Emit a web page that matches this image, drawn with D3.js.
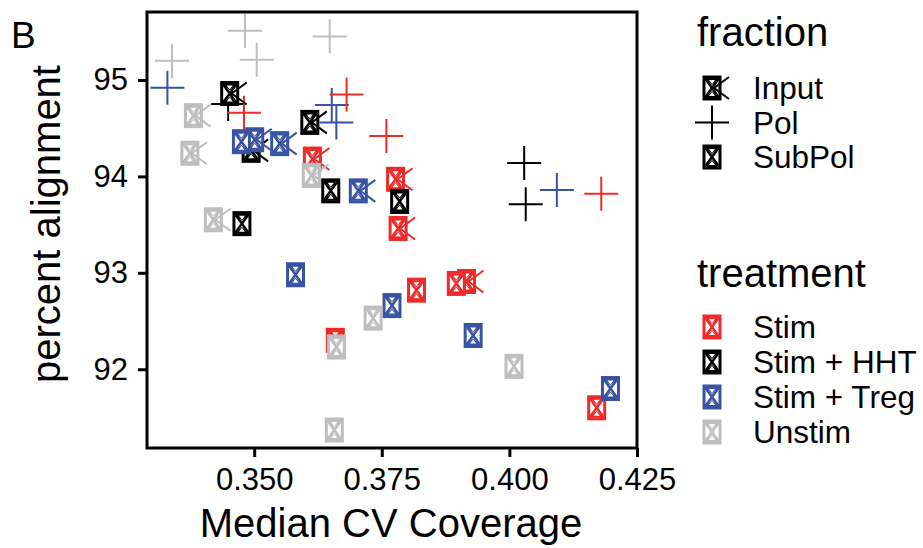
<!DOCTYPE html>
<html>
<head>
<meta charset="utf-8">
<script src="https://cdn.jsdelivr.net/npm/d3@7"></script>
<style>
  body { margin: 0; background: #fff; }
  text { font-family: "Liberation Sans", Arial, Helvetica, sans-serif; fill: #000; }
</style>
</head>
<body>
<div id="chart"></div>
<script>
// treatment colours and names
let treatments = ["Stim", "Stim + HHT", "Stim + Treg", "Unstim"];
let treatmentColors = ["#ee2a2a", "#000000", "#3953a4", "#bebebe"];
let fractions = ["Input", "Pol", "SubPol"];

let xTicks = [0.350, 0.375, 0.400, 0.425];
let yTicks = [92, 93, 94, 95];

// [coverage, alignment, treatment]
let polPoints = [
  [0.3339, 95.20, "Unstim"], [0.3482, 95.51, "Unstim"], [0.3505, 95.21, "Unstim"], [0.3648, 95.45, "Unstim"],
  [0.3330, 94.92, "Stim + Treg"], [0.3652, 94.74, "Stim + Treg"], [0.3661, 94.56, "Stim + Treg"],
  [0.3449, 94.75, "Stim + HHT"], [0.3480, 94.66, "Stim"], [0.3681, 94.85, "Stim"], [0.3759, 94.42, "Stim"],
  [0.4029, 94.14, "Stim + HHT"], [0.4032, 93.71, "Stim + HHT"], [0.4093, 93.86, "Stim + Treg"], [0.4180, 93.82, "Stim"]
];
let inputPoints = [
  [0.3452, 94.86, "Stim + HHT"], [0.3494, 94.27, "Stim + HHT"], [0.3609, 94.56, "Stim + HHT"],
  [0.3614, 94.18, "Stim"], [0.3777, 93.97, "Stim"], [0.3782, 93.46, "Stim"], [0.3916, 92.91, "Stim"],
  [0.3501, 94.38, "Stim + Treg"], [0.3550, 94.34, "Stim + Treg"], [0.3704, 93.85, "Stim + Treg"],
  [0.3381, 94.63, "Unstim"], [0.3374, 94.24, "Unstim"], [0.3420, 93.55, "Unstim"], [0.3612, 94.01, "Unstim"]
];
let subPolPoints = [
  [0.3650, 93.85, "Stim + HHT"], [0.3785, 93.74, "Stim + HHT"], [0.3476, 93.51, "Stim + HHT"],
  [0.3818, 92.82, "Stim"], [0.3896, 92.89, "Stim"], [0.3659, 92.30, "Stim"], [0.4171, 91.60, "Stim"],
  [0.3475, 94.36, "Stim + Treg"], [0.3581, 92.98, "Stim + Treg"], [0.3770, 92.66, "Stim + Treg"],
  [0.3929, 92.35, "Stim + Treg"], [0.4198, 91.80, "Stim + Treg"],
  [0.3733, 92.53, "Unstim"], [0.3661, 92.23, "Unstim"], [0.3657, 91.37, "Unstim"], [0.4009, 92.03, "Unstim"]
];

let plot = { left: 147, top: 12, right: 637, bottom: 448 };

let color = d3.scaleOrdinal().domain(treatments).range(treatmentColors);
let x = d3.scaleLinear().domain([0.329, 0.425]).range([plot.left, plot.right]);
let y = d3.scaleLinear().domain([91.183, 95.705]).range([plot.bottom, plot.top]);

let svg = d3.select("#chart").append("svg")
  .attr("width", 923)
  .attr("height", 548);

// box-with-hourglass glyph, optionally with the "<" strokes of Input
function drawBox(g, c, withArrow) {
  let w = 16, h = 22;
  g.append("rect")
    .attr("x", -w / 2).attr("y", -h / 2)
    .attr("width", w).attr("height", h)
    .attr("fill", "#fff")
    .attr("stroke", c).attr("stroke-width", 3);
  g.append("path")
    .attr("d", "M" + (-w / 2) + "," + (-h / 2) + "L" + (w / 2) + "," + (h / 2) +
               "M" + (w / 2) + "," + (-h / 2) + "L" + (-w / 2) + "," + (h / 2))
    .attr("stroke", c).attr("stroke-width", 2.5).attr("fill", "none");
  g.append("path")
    .attr("d", "M" + (-w / 2 + 1) + "," + (-h / 2 + 1) + "L" + (w / 2 - 1) + "," + (-h / 2 + 1) + "L0,-3Z" +
               "M" + (-w / 2 + 1) + "," + (h / 2 - 1) + "L" + (w / 2 - 1) + "," + (h / 2 - 1) + "L0,3Z")
    .attr("fill", c);
  g.append("path")
    .attr("d", "M-3,-8L3,-8L0,-4Z M-3,8L3,8L0,4Z")
    .attr("fill", "#fff");
  if (withArrow) {
    g.append("path")
      .attr("d", "M17,-11L2,0L17,11")
      .attr("stroke", c).attr("stroke-width", 2).attr("fill", "none");
  }
}

function drawPlus(g, c) {
  g.append("path")
    .attr("d", "M-17,0L17,0M0,-17L0,17")
    .attr("stroke", c).attr("stroke-width", 2).attr("fill", "none");
}

let marks = svg.append("g");

marks.selectAll(".pol").data(polPoints).enter().append("g")
  .attr("transform", d => "translate(" + x(d[0]) + "," + y(d[1]) + ")")
  .each(function(d) { drawPlus(d3.select(this), color(d[2])); });

marks.selectAll(".input").data(inputPoints).enter().append("g")
  .attr("transform", d => "translate(" + x(d[0]) + "," + y(d[1]) + ")")
  .each(function(d) { drawBox(d3.select(this), color(d[2]), true); });

marks.selectAll(".subpol").data(subPolPoints).enter().append("g")
  .attr("transform", d => "translate(" + x(d[0]) + "," + y(d[1]) + ")")
  .each(function(d) { drawBox(d3.select(this), color(d[2]), false); });

// panel frame
svg.append("rect")
  .attr("x", plot.left).attr("y", plot.top)
  .attr("width", plot.right - plot.left).attr("height", plot.bottom - plot.top)
  .attr("fill", "none").attr("stroke", "#000").attr("stroke-width", 3);

// axes
let xAxis = d3.axisBottom(x).tickValues(xTicks).tickFormat(d3.format(".3f")).tickSize(9).tickPadding(11);
let yAxis = d3.axisLeft(y).tickValues(yTicks).tickFormat(d3.format("d")).tickSize(9).tickPadding(10);

let gx = svg.append("g").attr("transform", "translate(0," + plot.bottom + ")").call(xAxis);
let gy = svg.append("g").attr("transform", "translate(" + plot.left + ",0)").call(yAxis);
[gx, gy].forEach(function(g) {
  g.select(".domain").remove();
  g.selectAll(".tick line").attr("stroke", "#000").attr("stroke-width", 3);
  g.selectAll(".tick text").attr("font-size", 31).attr("fill", "#000")
    .attr("font-family", "Liberation Sans, Arial, sans-serif");
});
gx.selectAll(".tick text").attr("dy", "0.71em");

// titles
svg.append("text").attr("x", 11).attr("y", 48).attr("font-size", 37).text("B");
svg.append("text").attr("x", 391).attr("y", 537).attr("text-anchor", "middle")
  .attr("font-size", 40).text("Median CV Coverage");
svg.append("text").attr("transform", "translate(60,224) rotate(-90)")
  .attr("text-anchor", "middle").attr("font-size", 40).text("percent alignment");

// legend: fraction
let legF = svg.append("g");
legF.append("text").attr("x", 697).attr("y", 46).attr("font-size", 40).text("fraction");
fractions.forEach(function(f, i) {
  let cy = 88 + i * 34.5;
  let g = legF.append("g").attr("transform", "translate(712," + cy + ")");
  if (f === "Pol") drawPlus(g, "#000");
  else drawBox(g, "#000", f === "Input");
  legF.append("text").attr("x", 753).attr("y", cy + 11).attr("font-size", 31.5).text(f);
});

// legend: treatment
let legT = svg.append("g");
legT.append("text").attr("x", 697).attr("y", 287).attr("font-size", 40).text("treatment");
treatments.forEach(function(t, i) {
  let cy = 327 + i * 35;
  let g = legT.append("g").attr("transform", "translate(712," + cy + ")");
  drawBox(g, color(t), false);
  legT.append("text").attr("x", 753).attr("y", cy + 11).attr("font-size", 31.5).text(t);
});
</script>
</body>
</html>
